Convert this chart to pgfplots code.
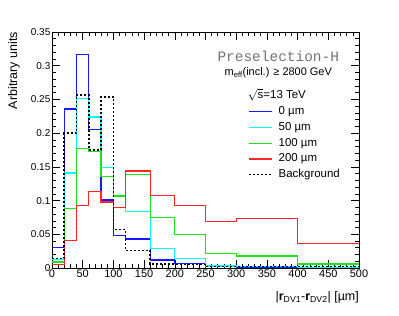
\documentclass[border=0pt]{standalone}
\usepackage{fontspec}
\setmainfont{Liberation Sans}
\newfontfamily\monofont{Liberation Mono}
\usepackage{pgfplots}
\pgfplotsset{compat=1.18}
\definecolor{rblue}{rgb}{0.1,0.1,1}
\definecolor{rcyan}{rgb}{0,1,1}
\definecolor{rgreen}{rgb}{0.1,0.9,0.1}
\definecolor{rred}{rgb}{1,0.15,0.15}
\begin{document}
\begin{tikzpicture}
\path[use as bounding box] (-52bp,-48bp) rectangle (347bp,268bp);
\begin{axis}[
  at={(0,0)}, anchor=south west,
  scale only axis, width=307bp, height=236bp,
  xmin=0, xmax=500, ymin=0, ymax=0.35,
  clip=false,
  xtick={0,50,...,500}, ytick={0,0.05,...,0.35},
  minor x tick num=4, minor y tick num=4,
  major tick length=8bp, minor tick length=4bp,
  tick align=inside,
  /pgf/number format/assume math mode=true,
  yticklabel style={font=\fontsize{10}{12}\selectfont, /pgf/number format/fixed, /pgf/number format/precision=2, inner sep=1.5bp},
  xticklabel style={font=\fontsize{11}{13}\selectfont, inner sep=1.5bp},
  scaled y ticks=false,
  axis line style={line width=0.8bp},
  every tick/.style={black, line width=0.6bp},
  legend style={at={(rel axis cs:0.639,0.686)}, anchor=north west, draw=none, fill=none,
    inner sep=0pt, font=\fontsize{11.5}{13}\selectfont, row sep=4.7bp,
    nodes={inner sep=0pt, text height=8.5bp, text depth=2.5bp},
    /tikz/every odd column/.append style={column sep=5.7bp}},
  legend cell align=left,
  legend image code/.code={\draw[#1] (0bp,0bp) -- (23bp,0bp);},
]
\addplot[color=rblue, line width=1.3bp, const plot mark left] coordinates {(0,0.030)(20,0.236)(40,0.317)(60,0.205)(80,0.101)(100,0.048)(120,0.043)(160,0.012)(200,0.007)(250,0.002)(300,0.001)(400,0.001)(500,0.001)};
\addlegendentry{0 µm}
\addplot[color=rcyan, line width=1.3bp, const plot mark left] coordinates {(0,0.013)(20,0.141)(40,0.251)(60,0.224)(80,0.149)(100,0.106)(120,0.084)(160,0.029)(200,0.014)(250,0.003)(300,0.002)(400,0.001)(500,0.001)};
\addlegendentry{50 µm}
\addplot[color=rgreen, line width=1.3bp, const plot mark left] coordinates {(0,0.009)(20,0.088)(40,0.177)(60,0.173)(80,0.136)(100,0.107)(120,0.139)(160,0.075)(200,0.050)(250,0.022)(300,0.018)(400,0.006)(500,0.006)};
\addlegendentry{100 µm}
\addplot[color=rred, line width=1.3bp, const plot mark left] coordinates {(0,0.005)(20,0.041)(40,0.093)(60,0.113)(80,0.098)(100,0.090)(120,0.144)(160,0.108)(200,0.093)(250,0.069)(300,0.073)(400,0.036)(500,0.036)};
\addlegendentry{200 µm}
\addplot[color=black, line width=1.6bp, dash pattern=on 2bp off 2bp, const plot mark left] coordinates {(0,0.014)(20,0.200)(40,0.257)(60,0.175)(80,0.254)(100,0.057)(120,0.026)(160,0.006)(200,0.005)(250,0.002)(300,0.002)(400,0.002)(500,0.002)};
\addlegendentry{Background}
\node[anchor=center, text=black!55, font=\monofont\fontsize{14.5}{16}\selectfont] at (rel axis cs:0.737,0.898) {Preselection-H};
\node[anchor=center, font=\fontsize{11}{13}\selectfont] at (rel axis cs:0.737,0.828) {m\textsubscript{eff}(incl.) ≥ 2800 GeV};
\node[anchor=west, inner sep=0pt, font=\fontsize{11.5}{13}\selectfont] at (rel axis cs:0.637,0.733) {$\sqrt{\mbox{s}}$=13 TeV};
\node[rotate=90, anchor=south east, inner sep=0pt, font=\fontsize{12.5}{14}\selectfont] at ([xshift=-32bp]rel axis cs:0,1) {Arbitrary units};
\node[anchor=north east, inner sep=0pt, font=\fontsize{12.5}{14}\selectfont] at ([yshift=-23bp]rel axis cs:1,0) {|\textbf{r}\textsubscript{DV1}-\textbf{r}\textsubscript{DV2}| [µm]};
\end{axis}
\end{tikzpicture}
\end{document}
